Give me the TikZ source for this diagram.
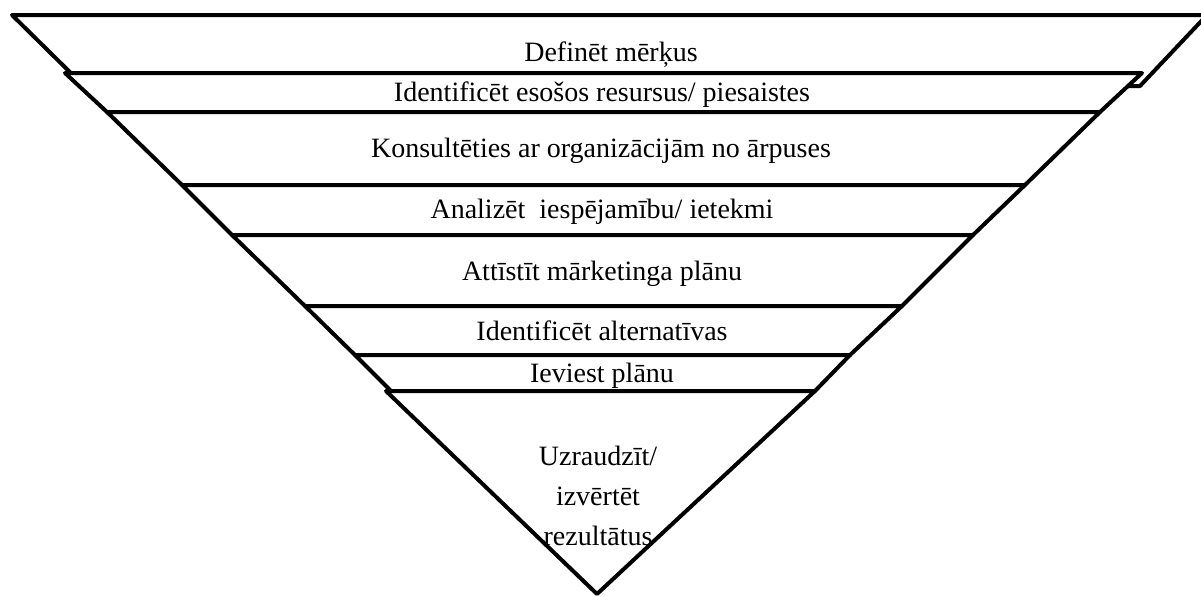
\documentclass[tikz,border=0pt]{standalone}
\usepackage{fontspec}
\setmainfont{Liberation Serif}
\usetikzlibrary{positioning}
\tikzset{
  fun/band/.style={
    draw=black,
    line width=2pt,
    line join=round,
    fill=white
  },
  fun/label/.style={
    anchor=base,
    inner sep=0pt,
    text=black,
    font=\fontsize{14}{20}\selectfont
  }
}

\begin{document}
\begin{tikzpicture}[x=0.5pt,y=-0.5pt]
  \useasboundingbox (0,0) rectangle (1201,596);
  \clip (0,0) rectangle (1201,596);
  % funnel bands, drawn top to bottom so each one covers the one above
  \draw[fun/band] (12,15) -- (1207,15) -- (1140,86) -- (84,86) -- cycle;
  \draw[fun/band] (65,73) -- (1142,73) -- (1100,112) -- (107,112) -- cycle;
  \draw[fun/band] (107,112) -- (1100,112) -- (1025,185) -- (182,185) -- cycle;
  \draw[fun/band] (182,185) -- (1025,185) -- (973,235) -- (232,235) -- cycle;
  \draw[fun/band] (232,235) -- (973,235) -- (902,306) -- (305,306) -- cycle;
  \draw[fun/band] (305,306) -- (902,306) -- (850,355) -- (355,355) -- cycle;
  \draw[fun/band] (355,355) -- (850,355) -- (815,391) -- (391,391) -- cycle;
  \draw[fun/band] (386,391) -- (815,391) -- (597,594) -- cycle;
  % texts
  \node[fun/label] (goals) at (611,61) {Definēt mērķus};
  \node[fun/label] (resources) at (602,101) {Identificēt esošos resursus/ piesaistes};
  \node[fun/label] (consult) at (601,157) {Konsultēties ar organizācijām no ārpuses};
  \node[fun/label] (analyse) at (602,218) {Analizēt~ iespējamību/ ietekmi};
  \node[fun/label] (marketing) at (602,280) {Attīstīt mārketinga plānu};
  \node[fun/label] (alternatives) at (602,340) {Identificēt alternatīvas};
  \node[fun/label] (implement) at (602,382) {Ieviest plānu};
  \node[fun/label,anchor=north,align=center] (monitor) at (598,446) {Uzraudzīt/\\izvērtēt\\rezultātus};
\end{tikzpicture}
\end{document}
